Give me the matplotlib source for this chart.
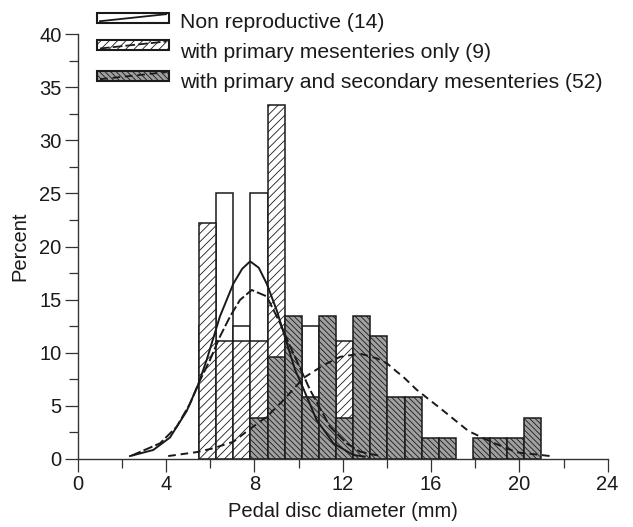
import numpy as np
import matplotlib
matplotlib.use('Agg')
import matplotlib.pyplot as plt
from matplotlib.patches import Rectangle
from matplotlib.lines import Line2D
from matplotlib.ticker import MultipleLocator

plt.rcParams['font.family'] = ['Liberation Sans', 'DejaVu Sans']
plt.rcParams['hatch.linewidth'] = 0.6
plt.rcParams['lines.scale_dashes'] = False

# histogram bins (mm), 20 classes from 5.5 to 21
bin_edges = np.linspace(5.5, 21.0, 21)

# percent per class
nonrep = [12.5, 25, 12.5, 25, 0, 12.5, 12.5, 0, 0, 0,
          0, 0, 0, 0, 0, 0, 0, 0, 0, 0]
primary = [22.2, 11.1, 11.1, 11.1, 33.3, 0, 0, 0, 11.1, 0,
           0, 0, 0, 0, 0, 0, 0, 0, 0, 0]
secondary = [0, 0, 0, 3.85, 9.62, 13.46, 5.77, 13.46, 3.85, 13.46,
             11.54, 5.77, 5.77, 1.92, 1.92, 0, 1.92, 1.92, 1.92, 3.85]

# fitted curves
nonrep_cx = [2.37, 3.42, 4.18, 4.94, 5.46, 5.84, 6.44, 7.05, 7.45, 7.81, 8.2, 8.56,
             9.01, 9.47, 9.84, 10.14, 10.82, 11.58, 12.48, 13.0]
nonrep_cy = [0.25, 0.82, 2.0, 4.5, 7.0, 9.3, 13.4, 16.5, 17.9, 18.6, 18.0, 16.5,
             14.0, 10.9, 8.4, 7.0, 3.65, 1.45, 0.35, 0.2]
primary_cx = [2.45, 3.73, 4.48, 5.09, 5.54, 5.99, 6.44, 6.9, 7.35, 7.88, 8.56,
              9.16, 9.62, 10.52, 11.43, 12.18, 12.79, 13.6]
primary_cy = [0.3, 1.45, 3.0, 5.2, 7.4, 9.3, 11.5, 13.4, 14.96, 15.9, 15.3,
              12.8, 10.6, 6.5, 3.0, 1.45, 0.66, 0.3]
secondary_cx = [4.1, 5.39, 6.14, 7.05, 7.8, 8.56, 9.31, 9.92, 10.22, 11.12, 11.88,
                12.79, 13.54, 14.0, 14.45, 14.75, 15.35, 16.45, 17.7, 18.82,
                19.88, 21.4]
secondary_cy = [0.25, 0.62, 0.98, 1.6, 2.8, 3.95, 5.5, 6.9, 7.6, 8.8, 9.6,
                9.9, 9.46, 9.0, 8.2, 7.7, 6.5, 4.7, 2.6, 1.5,
                0.6, 0.25]

labels = ['Non reproductive (14)',
          'with primary mesenteries only (9)',
          'with primary and secondary mesenteries (52)']

ink = '#1a1a1a'
centers = (bin_edges[:-1] + bin_edges[1:]) / 2
width = bin_edges[1] - bin_edges[0]

fig = plt.figure(figsize=(6.33, 5.27), dpi=100)
ax = fig.add_axes([0.1227, 0.1296, 0.8373, 0.8053])

styles = [dict(facecolor='white', hatch=None),
          dict(facecolor='white', hatch='////'),
          dict(facecolor='#a0a0a0', hatch='\\' * 6)]
for vals, st in zip([nonrep, primary, secondary], styles):
    vals = np.array(vals)
    m = vals > 0
    ax.bar(centers[m], vals[m], width, edgecolor=ink, linewidth=1.1,
           zorder=2, **st)

line_styles = [dict(linestyle='-'),
               dict(dashes=(7, 2.2)),
               dict(dashes=(5.5, 3.5))]
curves = [(nonrep_cx, nonrep_cy), (primary_cx, primary_cy),
          (secondary_cx, secondary_cy)]
for (cx, cy), ls in zip(curves, line_styles):
    ax.plot(cx, cy, color=ink, linewidth=1.4, zorder=5, **ls)

ax.set_xlim(0, 24)
ax.set_ylim(0, 40)
for s in ['top', 'right']:
    ax.spines[s].set_visible(False)
for s in ['left', 'bottom']:
    ax.spines[s].set_linewidth(1.0)
    ax.spines[s].set_color('#333333')
ax.xaxis.set_major_locator(MultipleLocator(4))
ax.xaxis.set_minor_locator(MultipleLocator(2))
ax.yaxis.set_major_locator(MultipleLocator(5))
ax.yaxis.set_minor_locator(MultipleLocator(2.5))
ax.tick_params(which='major', length=9.5, width=0.9, direction='out', pad=2,
               labelsize=14.5, color='#333333', labelcolor=ink)
ax.tick_params(which='minor', length=6.5, width=0.9, direction='out', color='#333333')
ax.set_xlabel('Pedal disc diameter (mm)', fontsize=14.5, color=ink, labelpad=6)
ax.set_ylabel('Percent', fontsize=14.5, color=ink, labelpad=7)

# legend drawn by hand (pixel positions in the figure)
W, H = 633, 527
box_tops = [12.7, 40, 70.7]
text_base = [28, 58.3, 88.3]
for i in range(3):
    y0 = box_tops[i]
    rect = Rectangle((97 / W, 1 - (y0 + 10) / H), 72 / W, 10 / H,
                     transform=fig.transFigure, facecolor=styles[i]['facecolor'],
                     edgecolor=ink, linewidth=1.5, hatch=styles[i]['hatch'],
                     zorder=10)
    fig.add_artist(rect)
    ln = Line2D([100 / W, 166 / W], [1 - (y0 + 8.5) / H, 1 - (y0 + 1.5) / H],
                transform=fig.transFigure, color=ink, linewidth=1.3,
                zorder=11, **line_styles[i])
    fig.add_artist(ln)
    fig.text(180 / W, 1 - text_base[i] / H, labels[i], fontsize=15.2,
             color=ink, va='baseline', ha='left')

fig.savefig('out.png', dpi=100)
